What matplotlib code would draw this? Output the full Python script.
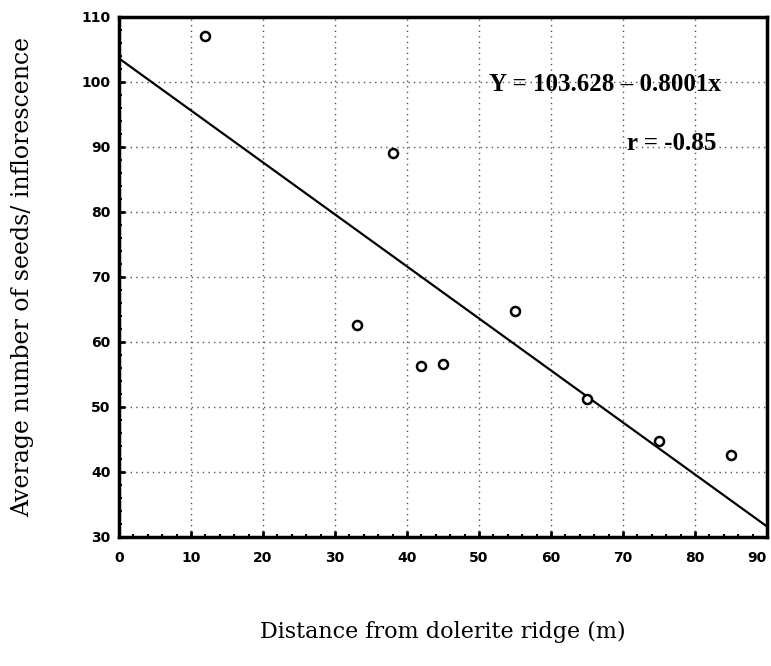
#!/usr/bin/env python3
# -*- coding:utf-8 -*-

import numpy as np
import matplotlib as mpl
mpl.use('Agg')
import matplotlib.pyplot as plt
from matplotlib.ticker import MultipleLocator


# distance from ridge (m) and mean seeds per inflorescence
distance = [12, 38, 33, 42, 45, 55, 65, 75, 85]
seeds = [107.0, 89.1, 62.6, 56.3, 56.6, 64.8, 51.2, 44.8, 42.6]

intercept = 103.628
slope = -0.8001
r_value = -0.85

x_ticks = [0, 10, 20, 30, 40, 50, 60, 70, 80, 90]
y_ticks = [30, 40, 50, 60, 70, 80, 90, 100, 110]


def plot_chart(outfile='out.png'):
    fig = plt.figure(figsize=(7.71, 6.66), dpi=100)
    ax = fig.add_axes([0.1543, 0.1937, 0.8405, 0.7808])

    ax.set_xlim(0, 90)
    ax.set_ylim(30, 110)

    xs = np.array([0, 90])
    ax.plot(xs, intercept + slope * xs, color='black', lw=1.6, zorder=3)
    ax.plot(distance, seeds, 'o', mfc='white', mec='black', ms=6.5,
            mew=1.8, zorder=4)

    ax.set_xticks(x_ticks)
    ax.set_yticks(y_ticks)
    ax.xaxis.set_minor_locator(MultipleLocator(2))
    ax.yaxis.set_minor_locator(MultipleLocator(2))
    ax.grid(True, which='major', linestyle=(0, (1, 3)), color='#555555',
            lw=1.0)
    ax.tick_params(which='major', direction='in', length=4, width=2,
                   pad=10)
    ax.tick_params(which='minor', direction='in', length=2.5, width=1.5)
    for sp in ax.spines.values():
        sp.set_linewidth(2.5)

    tick_font = dict(family=['Liberation Sans Narrow', 'DejaVu Sans'],
                     weight='bold', size=10)
    ax.set_xticklabels([str(t) for t in x_ticks], **tick_font)
    ax.set_yticklabels([str(t) for t in y_ticks], **tick_font)
    ax.get_xticklabels()[-1].set_horizontalalignment('right')
    ax.tick_params(axis='y', pad=6)

    ax.set_xlabel('Distance from dolerite ridge (m)', family='DejaVu Serif',
                  size=16, labelpad=40)
    ax.set_ylabel('Average number of seeds/ inflorescence',
                  family='DejaVu Serif', size=17, labelpad=34)

    ax.text(67.5, 99.6, 'Y = {:.3f} \u2013 {:.4f}x'.format(intercept, -slope),
            family='Liberation Serif', weight='bold', size=18,
            ha='center', va='center', zorder=5)
    ax.text(76.7, 90.6, 'r = {}'.format(r_value),
            family='Liberation Serif', weight='bold', size=18,
            ha='center', va='center', zorder=5)

    plt.savefig(outfile, dpi=100)


if __name__ == "__main__":
    plot_chart()
